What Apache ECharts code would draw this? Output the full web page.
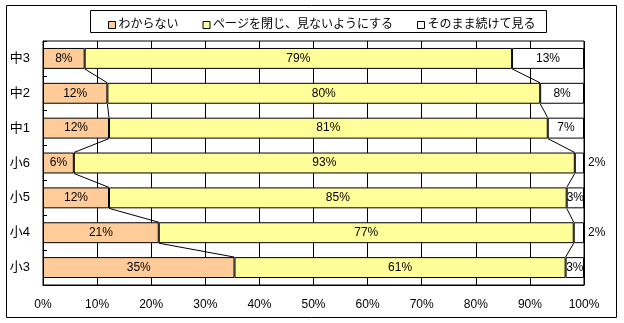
<!DOCTYPE html>
<html><head><meta charset="utf-8">
<script src="https://cdn.jsdelivr.net/npm/echarts@6/dist/echarts.min.js"></script>
<style>html,body{margin:0;padding:0;background:#fff}#c{width:624px;height:323px}</style>
</head><body><div id="c"></div>
<script>
var categories = ['中3','中2','中1','小6','小5','小4','小3'];
var seriesNames = ['わからない','ページを閉じ、見ないようにする','そのまま続けて見る'];
var dontKnow = [7.7, 11.9, 12.2, 5.7, 12.2, 21.4, 35.4];
var closePage = [79.0, 80.0, 81.1, 92.6, 84.6, 76.7, 61.2];
var keepWatching = [13.3, 8.1, 6.7, 1.7, 3.2, 1.9, 3.4];
var xTicks = [0,10,20,30,40,50,60,70,80,90,100];
var colors = ['#FFCC99','#FFFF99','#FFFFFF'];

var FONT = "'Liberation Sans','Noto Sans CJK JP',sans-serif";
var chart = echarts.init(document.getElementById('c'), null, {renderer:'canvas'});

function barSeries(name, vals, color, isLast){
  return {
    name: name, type: 'bar', stack: 'all', barCategoryGap: '40%',
    itemStyle: {color: color, borderColor: '#000', borderWidth: 1},
    label: {show: true, position: 'inside', color: '#000', fontSize: 12, fontFamily: FONT,
      formatter: function(p){ return Math.round(p.value) + '%'; }},
    data: vals.map(function(v){
      if (isLast && v < 2.5) return {value: v, label: {position: 'right', distance: 4}};
      return v;
    }),
    z: 3
  };
}

var cum1 = dontKnow.slice();
var cum2 = dontKnow.map(function(v,i){ return v + closePage[i]; });
var lineData = [];
for (var i = 0; i < categories.length - 1; i++) {
  lineData.push([i, cum1[i], cum1[i+1]]);
  lineData.push([i, cum2[i], cum2[i+1]]);
}

var option = {
  animation: false,
  backgroundColor: '#fff',
  textStyle: {fontFamily: FONT},
  graphic: [
    {type:'rect', shape:{x:6.5,y:5.5,width:610,height:312}, style:{fill:'none',stroke:'#000',lineWidth:1}, z:-1},
    {type:'rect', shape:{x:90.5,y:10.5,width:456,height:22}, style:{fill:'#fff',stroke:'#000',lineWidth:1}, z:-1}
  ],
  legend: {
    left: 103, top: 14, itemWidth: 7, itemHeight: 7, itemGap: 24,
    icon: 'rect',
    itemStyle: {borderColor:'#000', borderWidth:1},
    textStyle: {fontSize: 12, color:'#000', fontFamily: FONT, padding:[0,0,0,-2]},
    data: seriesNames
  },
  grid: {left: 43, right: 40, top: 41, bottom: 38, show: true, borderColor: '#000', borderWidth: 1},
  xAxis: {
    type: 'value', min: 0, max: 100, interval: 10,
    axisLine: {show: true, lineStyle:{color:'#000'}},
    axisTick: {show: false},
    splitLine: {show: true, lineStyle: {color: '#000', width: 1}},
    axisLabel: {color:'#000', fontSize: 12, fontFamily: FONT, margin: 14,
      formatter: function(v){ return v + '%'; }}
  },
  yAxis: {
    type: 'category', data: categories, inverse: true,
    axisLine: {show: true, lineStyle:{color:'#000'}},
    axisTick: {show: true, inside: true, length: 4, lineStyle:{color:'#000'}},
    axisLabel: {color:'#000', fontSize: 13, fontFamily: FONT, margin: 13}
  },
  series: [
    barSeries(seriesNames[0], dontKnow, colors[0], false),
    barSeries(seriesNames[1], closePage, colors[1], false),
    barSeries(seriesNames[2], keepWatching, colors[2], true),
    {
      type: 'custom', silent: true, z: 5,
      data: lineData,
      encode: {x: [1,2], y: 0},
      renderItem: function(params, api){
        var i = api.value(0);
        var a = api.coord([api.value(1), i]);
        var b = api.coord([api.value(2), i + 1]);
        var half = api.size([0, 1])[1] * 0.3;
        return {type:'line', shape:{x1:a[0], y1:a[1]+half, x2:b[0], y2:b[1]-half},
          style:{stroke:'#000', lineWidth:1}};
      }
    }
  ]
};
chart.setOption(option);
</script></body></html>
